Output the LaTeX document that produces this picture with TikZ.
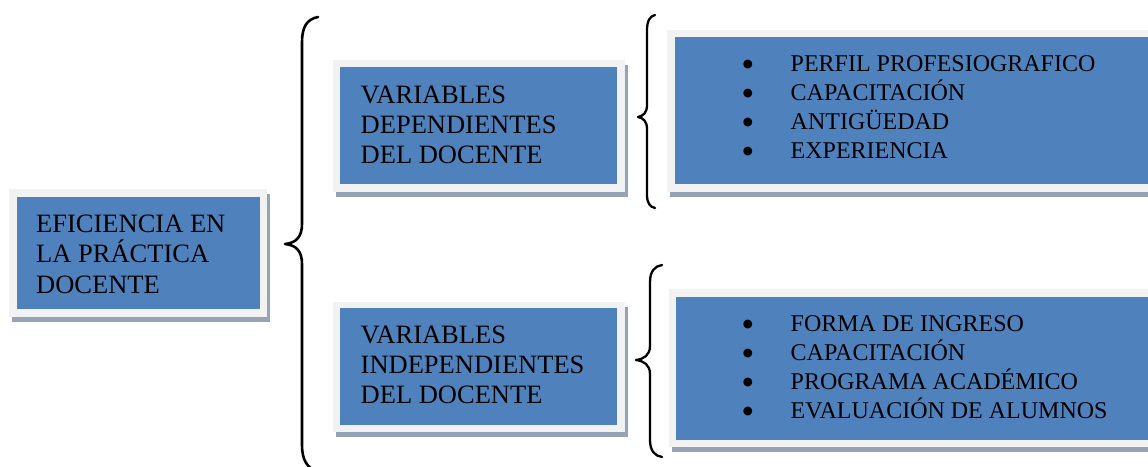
\documentclass[tikz,border=0pt]{standalone}
\usepackage{fontspec}
\setmainfont{Liberation Serif}
\newfontfamily\symfont{DejaVu Sans}
\usetikzlibrary{shadows,calc}
\definecolor{bluec}{HTML}{4F81BD}
\definecolor{frameg}{HTML}{F2F2F2}
\definecolor{shadowc}{HTML}{95A3B6}
\tikzset{
  frame/.style={fill=frameg, inner sep=0pt, anchor=north west,
    drop shadow={shadow xshift=3pt, shadow yshift=-5pt, fill=shadowc, opacity=1}},
  lbl/.style={inner sep=0pt, anchor=base west, font=\fontsize{26.5}{30}\selectfont},
  item/.style={inner sep=0pt, anchor=base west, font=\fontsize{24}{29}\selectfont},
  dot/.style={inner sep=0pt, anchor=center, yshift=6.7pt, font=\symfont\fontsize{11.5}{13}\selectfont},
  brace/.style={line width=2.6pt, line cap=round, line join=round}
}
\begin{document}
\begin{tikzpicture}[x=1pt,y=-1pt]
\clip (0,0) rectangle (1148,466);
\fill[white] (0,0) rectangle (1148,466);

% Box 1
\node[frame, minimum width=258pt, minimum height=128pt] (b1) at (9,189) {};
\fill[bluec] ($(b1.north west)+(8,8)$) rectangle ($(b1.south east)+(-7,-8)$);
\node[lbl] (t1a) at (36,232) {EFICIENCIA EN};
\node[lbl] (t1b) at (36,262.5) {LA PRÁCTICA};
\node[lbl] (t1c) at (36,293) {DOCENTE};

% Box 2
\node[frame, minimum width=292pt, minimum height=132pt] (b2) at (333,60) {};
\fill[bluec] ($(b2.north west)+(7,7)$) rectangle ($(b2.south east)+(-8,-8)$);
\node[lbl] (t2a) at (360.5,103) {VARIABLES};
\node[lbl] (t2b) at (360.5,133.3) {DEPENDIENTES};
\node[lbl] (t2c) at (360.5,163.5) {DEL DOCENTE};

% Box 4
\node[frame, minimum width=292pt, minimum height=130pt] (b4) at (333,302) {};
\fill[bluec] ($(b4.north west)+(7,6)$) rectangle ($(b4.south east)+(-8,-7)$);
\node[lbl] (t4a) at (360.5,343.3) {VARIABLES};
\node[lbl] (t4b) at (360.5,373.3) {INDEPENDIENTES};
\node[lbl] (t4c) at (360.5,403.3) {DEL DOCENTE};

% Box 3
\node[frame, minimum width=500pt, minimum height=162pt] (b3) at (667,30) {};
\fill[bluec] ($(b3.north west)+(8,7)$) rectangle ($(b3.south east)+(0,-8)$);
\node[dot] (d3a) at (748,71.7) {●};
\node[dot] (d3b) at (748,100.5) {●};
\node[dot] (d3c) at (748,129.5) {●};
\node[dot] (d3d) at (748,158.5) {●};
\node[item] (i3a) at (790.5,71.7) {PERFIL PROFESIOGRAFICO};
\node[item] (i3b) at (790.5,100.5) {CAPACITACIÓN};
\node[item] (i3c) at (790.5,129.5) {ANTIGÜEDAD};
\node[item] (i3d) at (790.5,158.5) {EXPERIENCIA};

% Box 5
\node[frame, minimum width=500pt, minimum height=158pt] (b5) at (669,289) {};
\fill[bluec] ($(b5.north west)+(7,8)$) rectangle ($(b5.south east)+(0,-7)$);
\node[dot] (d5a) at (748,331) {●};
\node[dot] (d5b) at (748,360) {●};
\node[dot] (d5c) at (748,389.3) {●};
\node[dot] (d5d) at (748,418.3) {●};
\node[item] (i5a) at (790.5,331) {FORMA DE INGRESO};
\node[item] (i5b) at (790.5,360) {CAPACITACIÓN};
\node[item] (i5c) at (790.5,389.3) {PROGRAMA ACADÉMICO};
\node[item] (i5d) at (790.5,418.3) {EVALUACIÓN DE ALUMNOS};

% Big brace
\draw[brace] (318,17) .. controls (307,19) and (302,27) .. (302,42)
  -- (302,224) .. controls (302,237) and (296,243) .. (285,244)
  .. controls (296,245) and (302,251) .. (302,264)
  -- (302,445) .. controls (302,460) and (307,468) .. (318,472);

% Upper right brace
\draw[brace, line width=2.3pt] (655,15) .. controls (650,16) and (647,21) .. (647,30)
  -- (647,105) .. controls (647,113) and (643,116) .. (638,117)
  .. controls (643,118) and (647,121) .. (647,129)
  -- (647,195) .. controls (647,203) and (650,207) .. (655,208);

% Lower right brace
\draw[brace, line width=2.3pt] (662,265) .. controls (655,266) and (650,271) .. (650,282)
  -- (650,346) .. controls (650,355) and (644,359) .. (636,360)
  .. controls (644,361) and (650,365) .. (650,374)
  -- (650,440) .. controls (650,451) and (655,456) .. (662,457);
\end{tikzpicture}
\end{document}
